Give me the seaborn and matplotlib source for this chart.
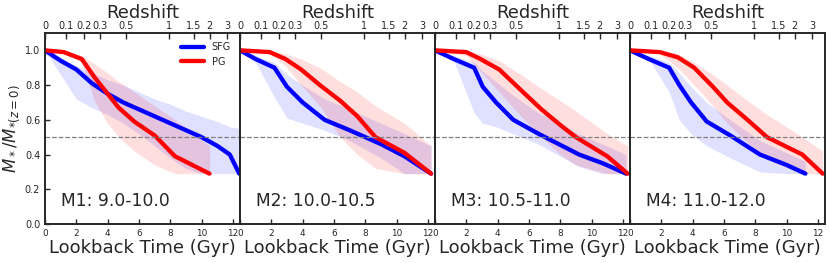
import matplotlib
matplotlib.use("Agg")
import matplotlib.pyplot as plt
import seaborn as sns
import pandas as pd
import numpy as np

sns.set_style("ticks")
plt.rcParams['font.family'] = ['DejaVu Sans']
plt.rcParams['xtick.direction'] = 'in'
plt.rcParams['ytick.direction'] = 'in'

bins = ['M1: 9.0-10.0', 'M2: 10.0-10.5', 'M3: 10.5-11.0', 'M4: 11.0-12.0']

# star-forming galaxies: lookback time (Gyr), median, band low/high
sfg_t = [
    [0, 1, 2, 3, 4, 5, 6, 7, 8, 9, 10, 11, 11.8, 12.4],
    [0, 1, 2.2, 3, 4, 5.4, 7, 9, 10.5, 12.2],
    [0, 1.2, 2.5, 3.05, 3.9, 5.0, 6.6, 9.2, 10.7, 12.2],
    [0, 1.2, 2.5, 3.15, 3.9, 4.9, 6.4, 8.3, 10, 11.2],
]
sfg_y = [
    [1.0, 0.94, 0.89, 0.81, 0.75, 0.70, 0.66, 0.62, 0.58, 0.54, 0.50, 0.45, 0.40, 0.29],
    [1.0, 0.95, 0.90, 0.79, 0.70, 0.60, 0.54, 0.46, 0.39, 0.29],
    [1.0, 0.95, 0.90, 0.79, 0.70, 0.60, 0.52, 0.40, 0.35, 0.29],
    [1.0, 0.95, 0.90, 0.80, 0.70, 0.59, 0.51, 0.40, 0.34, 0.29],
]
sfg_lo = [
    [1.0, 0.86, 0.72, 0.67, 0.63, 0.58, 0.52, 0.45, 0.38, 0.32, 0.29, 0.29, 0.29, 0.29],
    [1.0, 0.93, 0.73, 0.61, 0.58, 0.54, 0.48, 0.38, 0.29, 0.29],
    [1.0, 0.94, 0.64, 0.58, 0.56, 0.52, 0.46, 0.33, 0.29, 0.29],
    [1.0, 0.95, 0.76, 0.60, 0.52, 0.45, 0.38, 0.30, 0.29, 0.29],
]
sfg_hi = [
    [1.0, 0.96, 0.91, 0.87, 0.83, 0.80, 0.76, 0.72, 0.69, 0.65, 0.62, 0.59, 0.56, 0.55],
    [1.0, 0.97, 0.93, 0.86, 0.80, 0.72, 0.66, 0.58, 0.52, 0.45],
    [1.0, 0.97, 0.93, 0.88, 0.82, 0.74, 0.64, 0.52, 0.46, 0.40],
    [1.0, 0.97, 0.93, 0.87, 0.79, 0.70, 0.60, 0.48, 0.41, 0.36],
]

# passive galaxies
pg_t = [
    [0, 1.2, 2.35, 3.2, 4.0, 4.7, 5.7, 7.0, 8.3, 10.5],
    [0, 1.9, 2.9, 3.9, 5.1, 6.4, 7.5, 8.65, 10.5, 12.2],
    [0, 2, 2.9, 4.1, 5.5, 6.8, 8, 9, 11, 12.3],
    [0, 1.9, 3.05, 4.1, 5.3, 6.2, 7.5, 8.75, 11, 12.3],
]
pg_y = [
    [1.0, 0.99, 0.95, 0.84, 0.75, 0.67, 0.59, 0.51, 0.39, 0.29],
    [1.0, 0.99, 0.95, 0.89, 0.80, 0.71, 0.62, 0.50, 0.41, 0.29],
    [1.0, 0.99, 0.95, 0.89, 0.77, 0.66, 0.57, 0.50, 0.39, 0.29],
    [1.0, 0.99, 0.96, 0.90, 0.79, 0.70, 0.60, 0.50, 0.40, 0.29],
]
pg_lo = [
    [1.0, 0.99, 0.93, 0.70, 0.58, 0.50, 0.42, 0.34, 0.29, 0.29],
    [1.0, 0.98, 0.91, 0.80, 0.68, 0.50, 0.40, 0.32, 0.29, 0.29],
    [1.0, 0.97, 0.88, 0.76, 0.62, 0.50, 0.40, 0.34, 0.29, 0.29],
    [1.0, 0.98, 0.90, 0.80, 0.68, 0.58, 0.47, 0.37, 0.29, 0.29],
]
pg_hi = [
    [1.0, 1.0, 0.97, 0.92, 0.87, 0.82, 0.76, 0.68, 0.60, 0.45],
    [1.0, 1.0, 0.98, 0.95, 0.90, 0.82, 0.76, 0.68, 0.58, 0.45],
    [1.0, 1.0, 0.98, 0.94, 0.86, 0.78, 0.71, 0.65, 0.52, 0.45],
    [1.0, 1.0, 0.98, 0.93, 0.86, 0.80, 0.71, 0.63, 0.50, 0.42],
]

z_ticks = [0, 0.1, 0.2, 0.3, 0.5, 1, 1.5, 2, 3]
z_labels = ['0', '0.1', '0.2', '0.3', '0.5', '1', '1.5', '2', '3']


def lookback(z, h0=67.74, om=0.3089):
    zz = np.linspace(0, z, 2000)
    f = 1.0 / ((1 + zz) * np.sqrt(om * (1 + zz) ** 3 + 1 - om))
    return 977.8 / h0 * np.trapezoid(f, zz)


z_pos = [lookback(z) for z in z_ticks]

fig = plt.figure(figsize=(8.3, 2.63), dpi=100)
left, w, bot, h = 45 / 830, 195 / 830, 1 - 224 / 263, 191 / 263

for i in range(4):
    ax = fig.add_axes([left + i * w, bot, w, h])
    ax.fill_between(sfg_t[i], sfg_lo[i], sfg_hi[i], color='blue', alpha=0.12, lw=0)
    ax.fill_between(pg_t[i], pg_lo[i], pg_hi[i], color='red', alpha=0.13, lw=0)
    sfg = pd.DataFrame({'t': sfg_t[i], 'y': sfg_y[i]})
    pg = pd.DataFrame({'t': pg_t[i], 'y': pg_y[i]})
    sns.lineplot(data=sfg, x='t', y='y', ax=ax, color='blue', lw=3.1, label='SFG')
    sns.lineplot(data=pg, x='t', y='y', ax=ax, color='red', lw=3.1, label='PG')
    ax.axhline(0.5, color='gray', ls='--', lw=0.9)
    ax.set_xlim(0, 12.45)
    ax.set_ylim(0, 1.1)
    ax.set_xticks(range(0, 13, 2))
    ax.tick_params(labelsize=7, length=3.5, width=1)
    ax.tick_params(axis='x', labelsize=6.4)
    ax.set_xlabel('Lookback Time (Gyr)', fontsize=13, labelpad=1)
    for s in ax.spines.values():
        s.set_linewidth(1.2)
    ax.text(1.0, 0.13, bins[i], fontsize=12.3, va='center')
    if i == 0:
        ax.set_ylabel(r'$M_*/M_{*(z=0)}$', fontsize=12, labelpad=2)
        ax.legend(loc='upper right', frameon=False, fontsize=7,
                  handlelength=2.3, borderaxespad=0.55, labelspacing=0.45)
    else:
        ax.set_ylabel('')
        ax.set_yticks([])
        ax.get_legend().remove()
    top = ax.twiny()
    top.set_xlim(ax.get_xlim())
    top.set_xticks(z_pos)
    top.set_xticklabels(z_labels)
    top.tick_params(labelsize=7, length=4, width=1, pad=1.5)
    top.set_xlabel('Redshift', fontsize=13, labelpad=2)
    for s in top.spines.values():
        s.set_linewidth(1.2)

fig.savefig('out.png', dpi=100)
